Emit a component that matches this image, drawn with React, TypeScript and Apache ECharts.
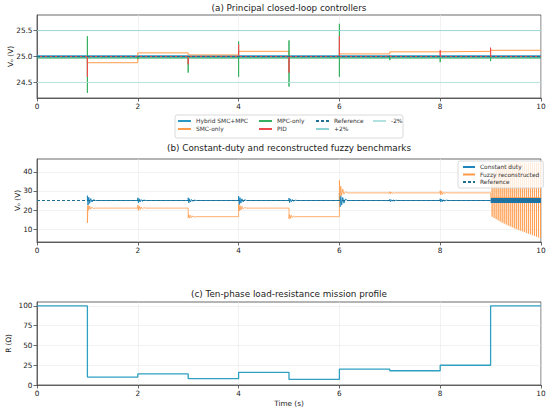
import React, { useEffect, useRef } from "react";
import * as echarts from "echarts";

const FONT = "DejaVu Sans";

// ---------- Panel (a) data ----------
const phaseTimes = [0, 1, 2, 3, 4, 5, 6, 7, 8, 9, 10];
const switchTimes = [1, 2, 3, 4, 5, 6, 7, 8, 9];
const hybridLevel = 25.0;
const referenceLevel = 25.0;
const plus2Level = 25.5;
const minus2Level = 24.5;
const smcLevels = [25.0, 24.88, 25.07, 25.03, 25.1, 25.0, 25.05, 25.09, 25.1, 25.12];
const mpcLevel = 24.97;
const mpcHigh = [25.39, 25.0, 24.98, 25.29, 25.31, 25.63, 24.99, 24.98, 24.99];
const mpcLow = [24.3, 24.95, 24.69, 24.61, 24.42, 24.61, 24.93, 24.89, 24.91];
const pidLevel = 25.0;
const pidExcursion = [24.61, 25.0, 24.85, 25.23, 24.69, 25.39, 25.02, 25.12, 25.17];

// ---------- Panel (b) data ----------
const ringDt = [0, 0.012, 0.027, 0.045, 0.066, 0.09, 0.12, 0.16];
const cdStart = 25;
const cdRings = [
  [27.5, 22.6, 26.7, 23.5, 26.0, 24.2, 25.4, 25],
  [26.4, 23.8, 25.9, 24.2, 25.5, 24.6, 25.2, 25],
  [26.4, 23.8, 25.9, 24.2, 25.5, 24.6, 25.2, 25],
  [27.3, 22.8, 26.5, 23.6, 25.9, 24.3, 25.4, 25],
  [26.3, 23.9, 25.8, 24.3, 25.5, 24.6, 25.2, 25],
  [28.8, 21.6, 27.6, 22.6, 26.6, 23.6, 25.8, 25],
  [25.6, 24.4, 25.4, 24.6, 25.3, 24.8, 25.1, 25],
  [25.9, 24.2, 25.6, 24.5, 25.4, 24.7, 25.2, 25],
];
const cdBandLevel = 25;
const fuzzyStart = 22;
const fuzzyRings = [
  [13.2, 22.6, 20.0, 22.0, 20.5, 21.5, 20.8, 21],
  [22.5, 19.8, 22.0, 20.3, 21.6, 20.6, 21.2, 21],
  [16.0, 17.6, 15.7, 17.2, 16.0, 16.9, 16.3, 16.5],
  [23.0, 19.6, 22.4, 20.0, 21.9, 20.5, 21.3, 21],
  [15.4, 17.6, 15.6, 17.2, 16.0, 16.9, 16.3, 16.5],
  [35.5, 27.0, 32.5, 27.8, 31.0, 28.3, 29.6, 29],
  [29.6, 28.5, 29.4, 28.7, 29.2, 28.8, 29.1, 29],
  [30.2, 28.0, 29.8, 28.3, 29.5, 28.6, 29.2, 29],
];
const fuzzyOscBase = 26.5;
const fuzzyOscT = [9.03, 9.07, 9.11, 9.15, 9.19, 9.23, 9.27, 9.31, 9.35, 9.39, 9.43, 9.47, 9.51, 9.55, 9.59, 9.63, 9.67, 9.71, 9.75, 9.79, 9.83, 9.87, 9.91, 9.95, 9.99];
const fuzzyOscHigh = [38, 40, 41.5, 42.5, 43, 43.5, 44, 44, 44.5, 44.5, 44.5, 44.8, 44.8, 44.8, 44.8, 44.8, 44.8, 44.8, 44.8, 44.8, 44.8, 44.8, 44.8, 44.8, 44.8];
const fuzzyOscLow = [16.5, 15.8, 15.2, 14.6, 14, 13.4, 12.9, 12.4, 11.9, 11.4, 10.9, 10.4, 10, 9.6, 9.2, 8.8, 8.4, 8, 7.6, 7.2, 6.8, 6.4, 6, 5.6, 5.2];

// ---------- Panel (c) data ----------
const resistance = [100, 10, 14, 8, 16, 7, 20, 18, 25, 100];

// ---------- tick labels ----------
const xTicks = [0, 2, 4, 6, 8, 10];
const yTicksA = [24.5, 25.0, 25.5];
const yTicksB = [10, 20, 30, 40];
const yTicksC = [0, 25, 50, 75, 100];

// ---------- colours ----------
const C_HYB = "#2a98c4";
const C_SMC = "#ff9b4a";
const C_MPC = "#35b060";
const C_PID = "#ec4a4c";
const C_REF = "#1f6f90";
const C_P2 = "#8dd3d3";
const C_M2 = "#b2e2df";
const C_CD = "#1f86bd";
const C_FZ = "#ff9b4a";
const C_R = "#2f9fc2";

function stepData(levels: number[]) {
  return phaseTimes.map((t, i) => [t, levels[Math.min(i, levels.length - 1)]]);
}

function mpcData() {
  const pts: number[][] = [[0, mpcLevel]];
  switchTimes.forEach((t, i) => {
    pts.push([t, mpcLevel], [t, mpcHigh[i]], [t, mpcLow[i]], [t, mpcLevel]);
  });
  pts.push([10, mpcLevel]);
  return pts;
}

function pidData() {
  const pts: number[][] = [[0, pidLevel]];
  switchTimes.forEach((t, i) => {
    pts.push([t, pidLevel], [t, pidExcursion[i]], [t, pidLevel]);
  });
  pts.push([10, pidLevel]);
  return pts;
}

function ringData(start: number, rings: number[][]) {
  const pts: number[][] = [];
  let prev = start;
  rings.forEach((ring, i) => {
    const t = switchTimes[i];
    pts.push([t, prev]);
    ring.forEach((v, k) => pts.push([t + ringDt[k], v]));
    prev = ring[ring.length - 1];
  });
  pts.push([9, prev]);
  return pts;
}

function cdData() {
  const pts = ringData(cdStart, cdRings);
  pts.push([10, cdBandLevel]);
  return pts;
}

function fuzzyData() {
  const pts = ringData(fuzzyStart, fuzzyRings);
  pts.push([9.005, fuzzyOscBase]);
  fuzzyOscT.forEach((t, k) => {
    pts.push([t, fuzzyOscBase], [t, fuzzyOscHigh[k]], [t, fuzzyOscLow[k]], [t, fuzzyOscBase]);
  });
  pts.push([10, fuzzyOscBase]);
  return pts;
}

const axisLineStyle = { color: "#444", width: 0.8 };
const labelStyle = { fontSize: 7.3, color: "#222", fontFamily: FONT };

function xAxis(gridIndex: number, name?: string) {
  return {
    type: "value",
    gridIndex,
    min: 0,
    max: 10,
    interval: 2,
    name: name || "",
    nameLocation: "middle",
    nameGap: 15,
    nameMoveOverlap: false,
    nameTextStyle: { fontSize: 7.3, color: "#222", fontFamily: FONT },
    axisLine: { show: true, onZero: false, lineStyle: axisLineStyle },
    axisTick: { show: true, length: 3.5, lineStyle: axisLineStyle },
    axisLabel: { ...labelStyle, margin: 5, formatter: (v: number) => String(v), customValues: xTicks },
    splitLine: { show: true, lineStyle: { color: "#e9e9e9", width: 0.6 } },
  };
}

function yAxis(gridIndex: number, min: number, max: number, ticks: number[], name: string, nameGap: number, digits: number) {
  return {
    type: "value",
    gridIndex,
    min,
    max,
    name,
    nameLocation: "middle",
    nameGap,
    nameMoveOverlap: false,
    nameTextStyle: { fontSize: 7.3, color: "#222", fontFamily: FONT },
    axisLine: { show: true, onZero: false, lineStyle: axisLineStyle },
    axisTick: { show: true, length: 3.5, lineStyle: axisLineStyle, customValues: ticks },
    axisLabel: { ...labelStyle, margin: 4.5, customValues: ticks, formatter: (v: number) => v.toFixed(digits) },
    splitLine: { show: true, lineStyle: { color: "#e9e9e9", width: 0.6 } },
  };
}

const gridBase = {
  left: 37,
  width: 504,
  show: true,
  borderColor: "#444",
  borderWidth: 0.8,
  backgroundColor: "transparent",
  containLabel: false,
  outerBoundsMode: "none",
};

const lineBase = { type: "line", symbol: "none", showSymbol: false, animation: false, silent: true };

const legendText = { fontSize: 5.9, color: "#333", fontFamily: FONT };
function legendCol(data: string[], left: number) {
  return {
    data,
    orient: "vertical",
    left,
    top: 118,
    itemWidth: 13,
    itemHeight: 3,
    itemGap: 2,
    padding: 0,
    selectedMode: false,
    itemStyle: { opacity: 0 },
    textStyle: legendText,
  };
}

const option = {
  animation: false,
  textStyle: { fontFamily: FONT },
  grid: [
    { ...gridBase, top: 15, height: 83 },
    { ...gridBase, top: 159, height: 83 },
    { ...gridBase, top: 302, height: 83 },
  ],
  xAxis: [xAxis(0), xAxis(1), xAxis(2, "Time (s)")],
  yAxis: [
    yAxis(0, 24.2, 25.8, yTicksA, "Vₒ (V)", 23, 1),
    yAxis(1, 3.2, 46.8, yTicksB, "Vₒ (V)", 16, 0),
    yAxis(2, 0, 105, yTicksC, "R (Ω)", 25, 0),
  ],
  legend: [
    legendCol(["Hybrid SMC+MPC", "SMC-only"], 177),
    legendCol(["MPC-only", "PID"], 258),
    legendCol(["Reference", "+2%"], 315),
    legendCol(["-2%"], 372),
    {
      data: ["Constant duty", "Fuzzy reconstructed", "Reference"],
      orient: "vertical",
      left: 458,
      top: 161,
      itemWidth: 12,
      itemHeight: 3,
      itemGap: 1.5,
      padding: [3, 4, 3, 4],
      backgroundColor: "rgba(255,255,255,0.8)",
      borderColor: "#d0d0d0",
      borderWidth: 0.8,
      borderRadius: 2,
      selectedMode: false,
      itemStyle: { opacity: 0 },
      textStyle: legendText,
    },
  ],
  graphic: [
    { type: "rect", z: 0, shape: { x: 175, y: 115, width: 228, height: 23, r: 2 }, style: { fill: "#fff", stroke: "#d0d0d0", lineWidth: 0.8 } },
    { type: "text", x: 289, y: 8, style: { text: "(a) Principal closed-loop controllers", fontSize: 8.8, fontFamily: FONT, fill: "#222", textAlign: "center", textVerticalAlign: "middle" } },
    { type: "text", x: 289, y: 148, style: { text: "(b) Constant-duty and reconstructed fuzzy benchmarks", fontSize: 8.8, fontFamily: FONT, fill: "#222", textAlign: "center", textVerticalAlign: "middle" } },
    { type: "text", x: 289, y: 294, style: { text: "(c) Ten-phase load-resistance mission profile", fontSize: 8.8, fontFamily: FONT, fill: "#222", textAlign: "center", textVerticalAlign: "middle" } },
  ],
  series: [
    { ...lineBase, name: "Hybrid SMC+MPC", xAxisIndex: 0, yAxisIndex: 0, data: [[0, hybridLevel], [10, hybridLevel]], lineStyle: { color: C_HYB, width: 2.6 }, itemStyle: { color: C_HYB } },
    { ...lineBase, name: "SMC-only", xAxisIndex: 0, yAxisIndex: 0, step: "end", data: stepData(smcLevels), lineStyle: { color: C_SMC, width: 1 }, itemStyle: { color: C_SMC } },
    { ...lineBase, name: "MPC-only", xAxisIndex: 0, yAxisIndex: 0, data: mpcData(), lineStyle: { color: C_MPC, width: 1 }, itemStyle: { color: C_MPC } },
    { ...lineBase, name: "PID", xAxisIndex: 0, yAxisIndex: 0, data: pidData(), lineStyle: { color: C_PID, width: 1 }, itemStyle: { color: C_PID } },
    { ...lineBase, name: "Reference", xAxisIndex: 0, yAxisIndex: 0, data: [[0, referenceLevel], [10, referenceLevel]], lineStyle: { color: C_REF, width: 1.1, type: [3, 2] }, itemStyle: { color: C_REF } },
    { ...lineBase, name: "+2%", xAxisIndex: 0, yAxisIndex: 0, data: [[0, plus2Level], [10, plus2Level]], lineStyle: { color: C_P2, width: 0.9 }, itemStyle: { color: C_P2 } },
    { ...lineBase, name: "-2%", xAxisIndex: 0, yAxisIndex: 0, data: [[0, minus2Level], [10, minus2Level]], lineStyle: { color: C_M2, width: 0.9 }, itemStyle: { color: C_M2 } },

    { ...lineBase, name: "Constant duty", xAxisIndex: 1, yAxisIndex: 1, data: cdData(), lineStyle: { color: C_CD, width: 1 }, itemStyle: { color: C_CD } },
    { ...lineBase, name: "Fuzzy reconstructed", xAxisIndex: 1, yAxisIndex: 1, data: fuzzyData(), lineStyle: { color: C_FZ, width: 0.8 }, itemStyle: { color: C_FZ } },
    { ...lineBase, name: "Constant duty", xAxisIndex: 1, yAxisIndex: 1, z: 3, data: [[9, cdBandLevel], [10, cdBandLevel]], lineStyle: { color: "#1f74a8", width: 5 }, itemStyle: { color: C_CD } },
    { ...lineBase, name: "Reference", xAxisIndex: 1, yAxisIndex: 1, z: 4, data: [[0, referenceLevel], [10, referenceLevel]], lineStyle: { color: C_REF, width: 1.1, type: [3, 2] }, itemStyle: { color: C_REF } },

    { ...lineBase, name: "Load resistance", xAxisIndex: 2, yAxisIndex: 2, step: "end", data: stepData(resistance), lineStyle: { color: C_R, width: 1.3 }, itemStyle: { color: C_R } },
  ],
};

export default function App() {
  const ref = useRef<HTMLDivElement>(null);
  useEffect(() => {
    if (!ref.current) return;
    const chart = echarts.init(ref.current, null, { renderer: "svg" });
    chart.setOption(option as any);
    return () => chart.dispose();
  }, []);
  return (
    <div
      ref={ref}
      style={{ position: "fixed", left: 0, top: 0, width: 550, height: 412, background: "#fff" }}
    />
  );
}
